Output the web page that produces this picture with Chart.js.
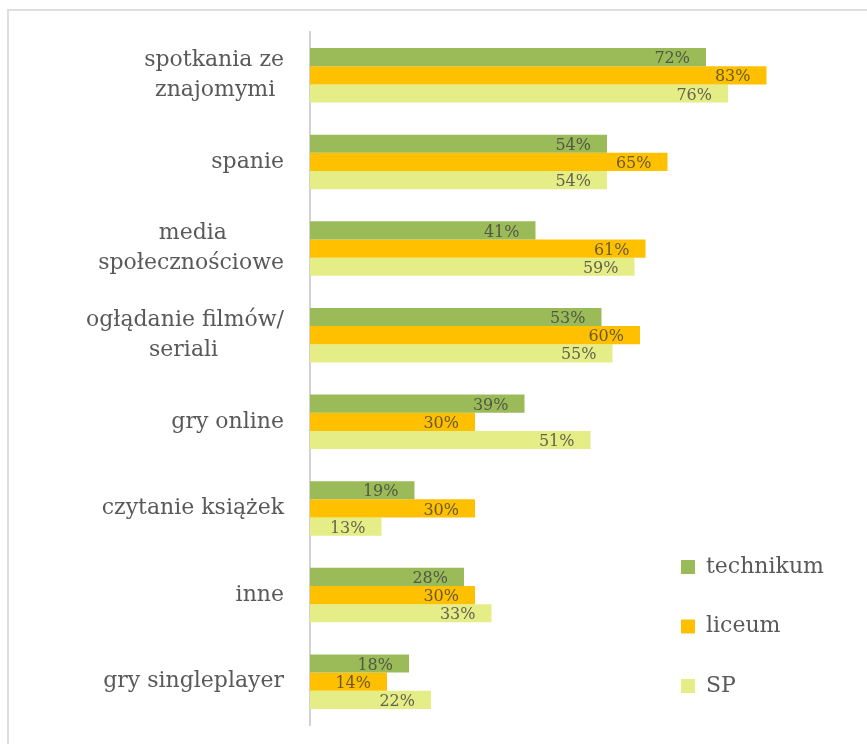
<!DOCTYPE html>
<html>
<head>
  <meta charset="utf-8">
  <title>Czas wolny</title>
  <script src="https://cdn.jsdelivr.net/npm/chart.js"></script>
  <style>
    body { margin: 0; background: #fff; overflow: hidden; }
    .frame {
      position: absolute; left: 7px; top: 9px; width: 900px; height: 800px;
      border-top: 2px solid #dedede; border-left: 2px solid #dedede;
    }
    #activity_chart { position: absolute; left: 0; top: 0; }
  </style>
</head>
<body>
<div class="frame"></div>
<canvas id="activity_chart" width="867" height="744"></canvas>

<script>
  const categories = [
    ['spotkania ze', 'znajomymi'],
    'spanie',
    ['media', 'społecznościowe'],
    ['ogłądanie filmów/', 'seriali'],
    'gry online',
    'czytanie książek',
    'inne',
    'gry singleplayer'
  ];
  const technikum = [72, 54, 41, 53, 39, 19, 28, 18];
  const liceum = [83, 65, 61, 60, 30, 30, 30, 14];
  const sp = [76, 54, 59, 55, 51, 13, 33, 22];

  const labelFont = '"DejaVu Serif", serif';

  // center the lines of a wrapped label inside its own block
  const measure = document.createElement('canvas').getContext('2d');
  measure.font = '22px ' + labelFont;
  function centerLines(label) {
    if (!Array.isArray(label)) return label;
    const widths = label.map(l => measure.measureText(l).width);
    const widest = Math.max(...widths);
    const thin = measure.measureText('\u2009').width;
    return label.map((l, i) => l + '\u2009'.repeat(Math.round((widest - widths[i]) / 2 / thin)));
  }

  // percentage text at the end of each bar
  const valueLabels = {
    id: 'valueLabels',
    afterDatasetsDraw(chart) {
      const ctx = chart.ctx;
      ctx.save();
      ctx.font = '16px ' + labelFont;
      ctx.fillStyle = 'rgba(60, 60, 60, 0.78)';
      ctx.textAlign = 'right';
      ctx.textBaseline = 'middle';
      chart.data.datasets.forEach((ds, i) => {
        chart.getDatasetMeta(i).data.forEach((bar, j) => {
          ctx.fillText(ds.data[j] + '%', bar.x - 16, bar.y + 2);
        });
      });
      ctx.restore();
    }
  };

  // move the legend to the lower right corner of the plot
  const legendPlacer = {
    id: 'legendPlacer',
    afterLayout(chart) {
      const lg = chart.legend;
      const area = chart.chartArea;
      const w = lg.width, h = lg.height;
      lg.left = area.right - 216.5;
      lg.right = lg.left + w;
      lg.top = area.bottom - 206.5;
      lg.bottom = lg.top + h;
    }
  };

  var ctx = document.getElementById('activity_chart').getContext('2d');
  var activityChart = new Chart(ctx, {
    type: 'bar',
    data: {
      labels: categories,
      datasets: [{
        label: 'technikum',
        data: technikum,
        backgroundColor: '#9BBB59',
        borderWidth: 0
      }, {
        label: 'liceum',
        data: liceum,
        backgroundColor: '#FFC000',
        borderWidth: 0
      }, {
        label: 'SP',
        data: sp,
        backgroundColor: '#E5ED86',
        borderWidth: 0
      }]
    },
    options: {
      responsive: false,
      animation: false,
      indexAxis: 'y',
      layout: {
        padding: { left: 0, right: 7, top: 32, bottom: 19 }
      },
      datasets: {
        bar: { categoryPercentage: 0.628, barPercentage: 1 }
      },
      scales: {
        x: {
          display: false,
          min: 0,
          max: 100
        },
        y: {
          afterFit: (scale) => {
            scale.width = 310;
            scale.paddingTop = 0;
            scale.paddingBottom = 0;
          },
          grid: { display: false, drawTicks: false },
          border: { display: true, color: '#d2d2d2', width: 2 },
          ticks: {
            padding: 26,
            color: '#595959',
            font: { family: labelFont, size: 22, lineHeight: 1.36 },
            callback: function (value, index) {
              return centerLines(categories[index]);
            }
          }
        }
      },
      plugins: {
        tooltip: { enabled: false },
        legend: {
          position: 'chartArea',
          align: 'start',
          labels: {
            boxWidth: 14,
            boxHeight: 14,
            padding: 37.5,
            color: '#595959',
            font: { family: labelFont, size: 22 }
          }
        }
      }
    },
    plugins: [valueLabels, legendPlacer]
  });
</script>
</body>
</html>
